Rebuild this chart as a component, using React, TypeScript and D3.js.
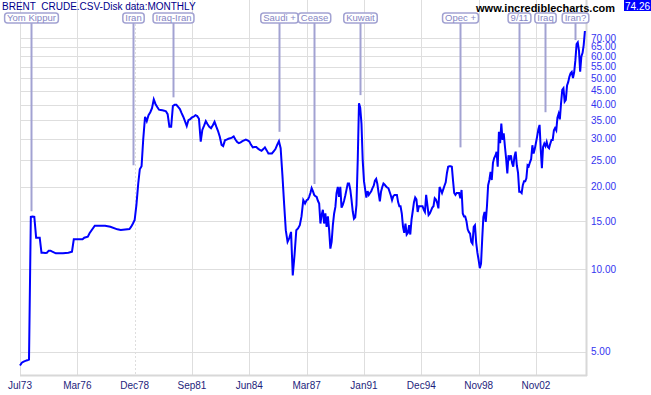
import { useEffect, useRef } from "react";
import * as d3 from "d3";

// Brent crude monthly closes
const months = [
  "1973-07", "1973-08", "1973-09", "1973-10", "1973-11", "1973-12",
  "1974-01", "1974-02", "1974-03", "1974-04", "1974-05", "1974-06",
  "1974-07", "1974-08", "1974-09", "1974-10", "1974-11", "1974-12",
  "1975-01", "1975-03", "1975-07", "1975-10", "1975-12",
  "1976-01", "1976-06", "1976-07", "1976-09", "1976-10",
  "1977-01", "1977-07", "1977-10",
  "1978-02", "1978-04", "1978-09", "1978-10", "1978-11", "1978-12",
  "1979-01", "1979-02", "1979-03", "1979-04", "1979-05", "1979-06",
  "1979-07", "1979-08", "1979-09", "1979-10", "1979-11", "1979-12",
  "1980-01", "1980-02", "1980-03", "1980-04", "1980-05", "1980-06",
  "1980-07", "1980-08", "1980-09", "1980-10", "1980-11", "1980-12",
  "1981-01", "1981-02", "1981-03", "1981-04", "1981-05", "1981-06",
  "1981-07", "1981-08", "1981-09", "1981-10", "1981-11", "1981-12",
  "1982-01", "1982-02", "1982-03", "1982-04", "1982-05", "1982-06",
  "1982-07", "1982-08", "1982-09", "1982-10", "1982-11", "1982-12",
  "1983-01", "1983-02", "1983-03", "1983-04", "1983-05", "1983-06",
  "1983-07", "1983-08", "1983-09", "1983-10", "1983-11", "1983-12",
  "1984-01", "1984-02", "1984-03", "1984-04", "1984-05", "1984-06",
  "1984-07", "1984-08", "1984-09", "1984-10", "1984-11", "1984-12",
  "1985-01", "1985-02", "1985-03", "1985-04", "1985-05", "1985-06",
  "1985-07", "1985-08", "1985-09", "1985-10", "1985-11", "1985-12",
  "1986-01", "1986-02", "1986-03", "1986-04", "1986-05", "1986-06",
  "1986-07", "1986-08", "1986-09", "1986-10", "1986-11", "1986-12",
  "1987-01", "1987-02", "1987-03", "1987-04", "1987-05", "1987-06",
  "1987-07", "1987-08", "1987-09", "1987-10", "1987-11", "1987-12",
  "1988-01", "1988-02", "1988-03", "1988-04", "1988-05", "1988-06",
  "1988-07", "1988-08", "1988-09", "1988-10", "1988-11", "1988-12",
  "1989-01", "1989-02", "1989-03", "1989-04", "1989-05", "1989-06",
  "1989-07", "1989-08", "1989-09", "1989-10", "1989-11", "1989-12",
  "1990-01", "1990-02", "1990-03", "1990-04", "1990-05", "1990-06",
  "1990-07", "1990-08", "1990-09", "1990-10", "1990-11", "1990-12",
  "1991-01", "1991-02", "1991-03", "1991-04", "1991-05", "1991-06",
  "1991-07", "1991-08", "1991-09", "1991-10", "1991-11", "1991-12",
  "1992-01", "1992-02", "1992-03", "1992-04", "1992-05", "1992-06",
  "1992-07", "1992-08", "1992-09", "1992-10", "1992-11", "1992-12",
  "1993-01", "1993-02", "1993-03", "1993-04", "1993-05", "1993-06",
  "1993-07", "1993-08", "1993-09", "1993-10", "1993-11", "1993-12",
  "1994-01", "1994-02", "1994-03", "1994-04", "1994-05", "1994-06",
  "1994-07", "1994-08", "1994-09", "1994-10", "1994-11", "1994-12",
  "1995-01", "1995-02", "1995-03", "1995-04", "1995-05", "1995-06",
  "1995-07", "1995-08", "1995-09", "1995-10", "1995-11", "1995-12",
  "1996-01", "1996-02", "1996-03", "1996-04", "1996-05", "1996-06",
  "1996-07", "1996-08", "1996-09", "1996-10", "1996-11", "1996-12",
  "1997-01", "1997-02", "1997-03", "1997-04", "1997-05", "1997-06",
  "1997-07", "1997-08", "1997-09", "1997-10", "1997-11", "1997-12",
  "1998-01", "1998-02", "1998-03", "1998-04", "1998-05", "1998-06",
  "1998-07", "1998-08", "1998-09", "1998-10", "1998-11", "1998-12",
  "1999-01", "1999-02", "1999-03", "1999-04", "1999-05", "1999-06",
  "1999-07", "1999-08", "1999-09", "1999-10", "1999-11", "1999-12",
  "2000-01", "2000-02", "2000-03", "2000-04", "2000-05", "2000-06",
  "2000-07", "2000-08", "2000-09", "2000-10", "2000-11", "2000-12",
  "2001-01", "2001-02", "2001-03", "2001-04", "2001-05", "2001-06",
  "2001-07", "2001-08", "2001-09", "2001-10", "2001-11", "2001-12",
  "2002-01", "2002-02", "2002-03", "2002-04", "2002-05", "2002-06",
  "2002-07", "2002-08", "2002-09", "2002-10", "2002-11", "2002-12",
  "2003-01", "2003-02", "2003-03", "2003-04", "2003-05", "2003-06",
  "2003-07", "2003-08", "2003-09", "2003-10", "2003-11", "2003-12",
  "2004-01", "2004-02", "2004-03", "2004-04", "2004-05", "2004-06",
  "2004-07", "2004-08", "2004-09", "2004-10", "2004-11", "2004-12",
  "2005-01", "2005-02", "2005-03", "2005-04", "2005-05", "2005-06",
  "2005-07", "2005-08", "2005-09", "2005-10", "2005-11", "2005-12",
  "2006-01", "2006-02", "2006-03", "2006-04",
];

const closes = [
  4.45, 4.56, 4.6, 4.63, 4.65, 4.68,
  15.56, 15.6, 15.56, 13.05, 13.05, 13.05,
  11.5, 11.5, 11.48, 11.5, 11.7, 11.7,
  11.6, 11.44, 11.45, 11.5, 11.6,
  12.87, 12.87, 13.05, 13.16, 13.54,
  14.43, 14.43, 14.31,
  14.0, 13.92, 14.04, 14.31, 14.7, 15.14,
  17.2, 20.5, 23.2, 23.8, 30.0, 36.1,
  34.8, 36.6, 37.5, 38.8, 41.8, 40.2,
  39.2, 38.3, 38.2, 38.1, 38.0, 37.8,
  36.9, 33.2, 33.2, 39.5, 39.9, 39.9,
  39.2, 38.5, 37.3, 36.1, 34.8, 33.4,
  35.1, 35.4, 35.9, 36.1, 36.6, 36.3,
  35.5, 29.3, 32.3, 33.5, 34.8, 33.9,
  33.2, 32.8, 33.6, 34.6, 33.2, 32.0,
  30.5, 28.5, 28.2, 29.6, 29.8, 30.0,
  30.1, 30.3, 30.6, 29.8, 29.2, 28.9,
  29.1, 29.4, 29.6, 29.8, 29.6, 29.3,
  28.5, 27.9, 28.0, 28.0, 27.6, 27.3,
  27.1, 27.5, 27.9, 27.2, 26.5, 26.5,
  26.5, 27.0, 27.5, 28.5, 29.4, 27.7,
  22.1, 17.2, 13.9, 12.6, 13.0, 13.7,
  9.5, 11.3, 13.9, 14.1, 14.5, 15.6,
  17.9, 17.4, 17.9, 18.0, 18.4, 19.0,
  19.8, 19.3, 18.7, 18.5, 18.4, 17.8,
  17.4, 14.7, 15.8, 16.5, 14.7, 16.0,
  14.3, 15.6, 13.9, 11.9, 12.6, 14.5,
  16.0, 16.9, 19.0, 20.0, 18.4, 20.0,
  16.8, 17.2, 17.8, 18.6, 19.6, 20.6,
  20.6, 19.5, 18.0, 16.3, 15.3, 15.5,
  17.2, 25.0, 40.4, 39.0, 34.0, 25.0,
  21.0, 19.5, 18.3, 19.3, 18.7, 19.0,
  19.3, 19.8, 20.2, 21.1, 21.4, 20.5,
  19.0, 17.7, 19.2, 20.0, 20.6, 20.4,
  20.1, 19.9, 19.8, 19.2, 18.6, 17.9,
  18.5, 18.7, 18.7, 18.7, 17.6, 17.0,
  17.0, 16.0, 14.3, 13.6, 14.7, 13.4,
  13.6, 14.5, 13.4, 15.2, 16.3, 17.6,
  18.3, 18.0, 16.2, 17.0, 17.0, 17.0,
  17.0, 16.5, 16.2, 18.7, 17.2, 15.8,
  16.0, 16.4, 16.8, 17.0, 18.2, 18.0,
  17.5, 16.7, 20.0, 19.5, 19.0, 19.6,
  20.2, 20.8, 22.5, 23.7, 23.8, 23.8,
  23.7, 21.0, 19.0, 18.7, 19.0, 19.0,
  19.0, 18.2, 19.5, 16.0, 15.6, 15.6,
  15.0, 14.0, 13.7, 13.5, 12.6, 12.4,
  14.3, 14.5, 12.5, 11.5, 10.8, 10.1,
  10.5, 13.0, 15.5, 16.2, 14.9, 17.0,
  20.3, 21.2, 22.7, 21.2, 24.5, 25.5,
  26.0, 26.9, 23.7, 31.8, 28.9, 34.1,
  29.7, 31.4, 28.1, 25.4, 22.4, 26.1,
  25.4, 26.1, 24.5, 23.7, 25.8, 26.9,
  24.0, 22.5, 19.2, 19.2, 19.0, 20.3,
  21.0, 21.0, 21.5, 24.0, 23.8, 24.6,
  25.3, 28.4, 26.5, 27.5, 29.0, 30.6,
  32.5, 33.7, 27.7, 23.4, 28.0, 28.8,
  28.2, 29.2, 28.0, 27.7, 28.8, 29.7,
  29.7, 32.2, 32.8, 32.2, 35.8, 37.0,
  35.3, 40.4, 45.3, 45.9, 41.0, 41.6,
  47.0, 48.4, 50.5, 52.0, 52.6, 50.0,
  52.5, 58.0, 66.5, 67.5, 63.0, 52.7,
  60.0, 61.8, 66.0, 74.26,
];

const xTickMonths = [
  "1973-07", "1976-03", "1978-12", "1981-09", "1984-06",
  "1987-03", "1991-01", "1994-12", "1998-11", "2002-11",
];
const xTickLabels = [
  "Jul73", "Mar76", "Dec78", "Sep81", "Jun84",
  "Mar87", "Jan91", "Dec94", "Nov98", "Nov02",
];
const yTicks = [5, 10, 15, 20, 25, 30, 35, 40, 45, 50, 55, 60, 65, 70];

const eventLabels = [
  "Yom Kippur", "Iran", "Iraq-Iran", "Saudi +", "Cease",
  "Kuwait", "Opec +", "9/11", "Iraq", "Iran?",
];
const eventMonths = [
  "1974-01", "1978-11", "1980-10", "1985-11", "1987-09",
  "1990-10", "1997-08", "2001-09", "2003-06-16", "2005-08",
];
const eventPrices = [16.3, 24.0, 42.5, 31.8, 20.5, 43.3, 27.9, 27.9, 37.5, 68.8];

const title = "BRENT  CRUDE.CSV-Disk data:MONTHLY";
const site = "www.incrediblecharts.com";
const lastClose = "74.26";

const parseMonth = (s: string) =>
  s.length > 7 ? d3.utcParse("%Y-%m-%d")(s)! : d3.utcParse("%Y-%m")(s)!;

export default function App() {
  const svgRef = useRef<SVGSVGElement | null>(null);

  useEffect(() => {
    if (!svgRef.current) return;
    const svg = d3.select(svgRef.current);
    svg.selectAll("*").remove();

    const width = 651;
    const height = 395;
    const plotLeft = 20;
    const plotRight = 586;
    const plotBottom = 375;
    const tickStep = 57.33;
    const font = "Arial, 'Liberation Sans', sans-serif";
    const gridColor = "#dedede";
    const eventColor = "#a2a2d2";

    svg.attr("viewBox", `0 0 ${width} ${height}`);

    // the source chart spaces its date labels evenly, so the time scale is polylinear
    const x = d3
      .scaleUtc()
      .domain(xTickMonths.map(parseMonth))
      .range(xTickMonths.map((_, i) => plotLeft + i * tickStep));
    const y = d3.scaleLog().domain([4.11, 96.4]).range([plotBottom, 0]);

    const rows = months.map((m, i) => ({ date: parseMonth(m), close: closes[i] }));

    svg.append("rect").attr("width", width).attr("height", height).attr("fill", "#fff");

    const grid = svg.append("g");
    grid
      .selectAll("line.h")
      .data(yTicks)
      .join("line")
      .attr("class", "h")
      .attr("x1", plotLeft)
      .attr("x2", plotRight)
      .attr("y1", (d) => Math.round(y(d)) + 0.5)
      .attr("y2", (d) => Math.round(y(d)) + 0.5)
      .attr("stroke", gridColor);

    grid
      .selectAll("line.v")
      .data(xTickMonths)
      .join("line")
      .attr("class", "v")
      .attr("x1", (d) => Math.round(x(parseMonth(d))) + 0.5)
      .attr("x2", (d) => Math.round(x(parseMonth(d))) + 0.5)
      .attr("y1", 0)
      .attr("y2", plotBottom)
      .attr("stroke", gridColor)
      .attr("stroke-dasharray", (d) => (d === "1978-12" ? "2,2" : null));

    // axis frame
    svg
      .append("line")
      .attr("x1", plotLeft)
      .attr("x2", plotRight + 1)
      .attr("y1", plotBottom + 0.5)
      .attr("y2", plotBottom + 0.5)
      .attr("stroke", "#d8d8d8")
      .attr("stroke-width", 2);
    svg
      .append("line")
      .attr("x1", plotRight + 0.5)
      .attr("x2", plotRight + 0.5)
      .attr("y1", 0)
      .attr("y2", plotBottom + 1)
      .attr("stroke", "#d8d8d8")
      .attr("stroke-width", 2);

    svg
      .append("g")
      .selectAll("text")
      .data(yTicks)
      .join("text")
      .attr("x", 591)
      .attr("y", (d) => y(d) + 3.5)
      .attr("font-family", font)
      .attr("font-size", 10)
      .attr("fill", "#3434f0")
      .text((d) => d3.format(".2f")(d));

    svg
      .append("g")
      .selectAll("text")
      .data(xTickMonths)
      .join("text")
      .attr("x", (d) => x(parseMonth(d)))
      .attr("y", 388.5)
      .attr("text-anchor", "middle")
      .attr("font-family", font)
      .attr("font-size", 10)
      .attr("fill", "#1e1e7c")
      .text((_, i) => xTickLabels[i]);

    // event marker stems
    const events = eventLabels.map((label, i) => ({
      label,
      x: Math.round(x(parseMonth(eventMonths[i]))) + 0.5,
      y: y(eventPrices[i]),
    }));

    svg
      .append("g")
      .selectAll("line")
      .data(events)
      .join("line")
      .attr("x1", (d) => d.x)
      .attr("x2", (d) => d.x)
      .attr("y1", 22)
      .attr("y2", (d) => d.y)
      .attr("stroke", eventColor)
      .attr("stroke-width", 2);

    const line = d3
      .line<(typeof rows)[number]>()
      .x((d) => x(d.date))
      .y((d) => y(d.close));

    svg
      .append("path")
      .datum(rows)
      .attr("fill", "none")
      .attr("stroke", "#0000ff")
      .attr("stroke-width", 2)
      .attr("d", line);

    // event label boxes
    const labelGroups = svg
      .append("g")
      .selectAll("g")
      .data(events)
      .join("g");

    labelGroups.each(function (d) {
      const g = d3.select(this);
      const rect = g.append("rect");
      const text = g
        .append("text")
        .attr("x", d.x)
        .attr("y", 21)
        .attr("text-anchor", "middle")
        .attr("font-family", font)
        .attr("font-size", 9.5)
        .attr("fill", "#8686c4")
        .text(d.label);
      const w = (text.node() as SVGTextElement).getComputedTextLength();
      rect
        .attr("x", d.x - w / 2 - 2.5)
        .attr("y", 13)
        .attr("width", w + 5)
        .attr("height", 10)
        .attr("rx", 3)
        .attr("fill", "#fff")
        .attr("stroke", eventColor)
        .attr("stroke-width", 1.5);
    });

    // header
    svg
      .append("text")
      .attr("x", 2)
      .attr("y", 10)
      .attr("font-family", font)
      .attr("font-size", 10)
      .attr("fill", "#00008b")
      .style("white-space", "pre")
      .text(title);

    svg
      .append("text")
      .attr("x", 615)
      .attr("y", 11.5)
      .attr("text-anchor", "end")
      .attr("font-family", font)
      .attr("font-size", 11)
      .attr("font-weight", "bold")
      .attr("fill", "#000")
      .text(site);

    svg
      .append("rect")
      .attr("x", 624)
      .attr("y", 0)
      .attr("width", 27)
      .attr("height", 11)
      .attr("fill", "#0000ff");
    svg
      .append("text")
      .attr("x", 637.5)
      .attr("y", 9.5)
      .attr("text-anchor", "middle")
      .attr("font-family", font)
      .attr("font-size", 10)
      .attr("fill", "#fff")
      .text(lastClose);
  }, []);

  return (
    <svg
      ref={svgRef}
      width={651}
      height={395}
      style={{ position: "absolute", left: 0, top: 0, display: "block" }}
    />
  );
}
